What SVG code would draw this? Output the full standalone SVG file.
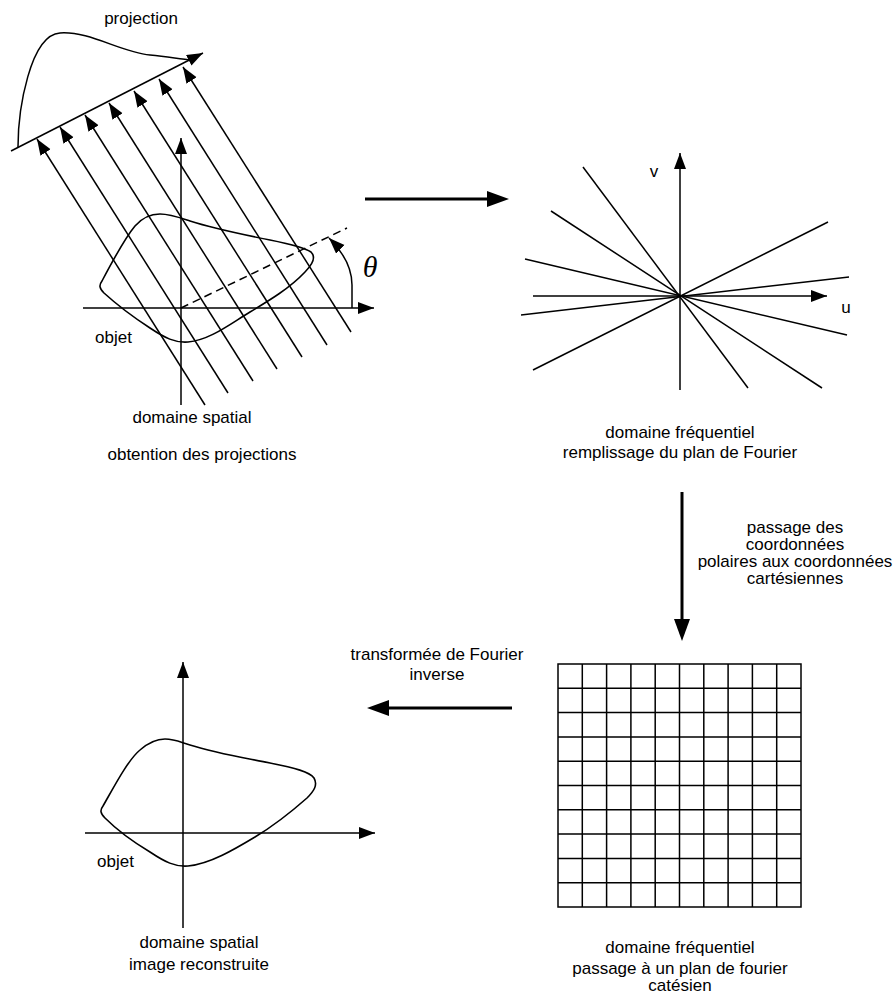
<svg xmlns="http://www.w3.org/2000/svg" width="896" height="999" viewBox="0 0 896 999">
<style>
.t{font-family:"Liberation Sans",Arial,sans-serif;font-size:17px;fill:#000}
.m{text-anchor:middle}
.ln{stroke:#000;stroke-width:1.5;fill:none}
.thick{stroke:#000;stroke-width:3;fill:none}
.shape{stroke:#000;stroke-width:1.6;fill:none}
</style>
<defs>
<marker id="ah" markerUnits="userSpaceOnUse" markerWidth="17" markerHeight="13" refX="16" refY="6" orient="auto">
<path d="M0,0 L16,6 L0,12 Z" fill="#000"/>
</marker>
<marker id="ahb" markerUnits="userSpaceOnUse" markerWidth="23" markerHeight="17" refX="0" refY="8" orient="auto">
<path d="M0,0 L22,8 L0,16 Z" fill="#000"/>
</marker>
</defs>
<rect width="896" height="999" fill="#fff"/>

<g id="projection-panel">
<path class="ln" d="M18,147 C18,110 30,35 60,33 C90,31 120,52 150,55 C170,57 180,59 192,60"/>
<line class="ln" x1="11" y1="151" x2="203" y2="53" marker-end="url(#ah)"/>
<line class="ln" x1="205" y1="405" x2="37" y2="139" marker-end="url(#ah)"/>
<line class="ln" x1="228" y1="393" x2="60" y2="127" marker-end="url(#ah)"/>
<line class="ln" x1="253" y1="381" x2="85" y2="115" marker-end="url(#ah)"/>
<line class="ln" x1="277" y1="369" x2="109" y2="103" marker-end="url(#ah)"/>
<line class="ln" x1="302" y1="357" x2="134" y2="91" marker-end="url(#ah)"/>
<line class="ln" x1="327" y1="345" x2="159" y2="79" marker-end="url(#ah)"/>
<line class="ln" x1="351" y1="332" x2="183" y2="67" marker-end="url(#ah)"/>
<line class="ln" x1="181" y1="405" x2="181" y2="138" marker-end="url(#ah)"/>
<line class="ln" x1="83" y1="308" x2="374" y2="308" marker-end="url(#ah)"/>
<line class="ln" x1="181" y1="308" x2="347" y2="228" stroke-dasharray="8,5"/>
<path class="ln" d="M352,308 L352,285 C352,268 343,252 329,238" marker-end="url(#ah)"/>
<path class="shape" d="M102,281 C112,262 125,238 135,226 C142,218 150,214 160,214 C170,214 178,217 190,221 C215,229 240,234 270,240 C295,245 305,248 311,252 C316,257 313,264 305,272 C290,288 270,300 250,312 C230,324 210,340 188,342 C175,343 165,338 150,328 C130,315 115,303 104,293 C99,288 99,285 102,281 Z"/>
<text x="370" y="277" style="font-family:'Liberation Serif','Times New Roman',serif;font-style:italic;font-size:30px" text-anchor="middle">θ</text>
<text class="t m" x="141" y="24">projection</text>
<text class="t" x="95" y="343">objet</text>
<text class="t m" x="192" y="423">domaine spatial</text>
<text class="t m" x="202" y="460">obtention des projections</text>
</g>

<g id="fourier-polar">
<line class="ln" x1="583" y1="167" x2="748" y2="388"/>
<line class="ln" x1="551" y1="211" x2="822" y2="388"/>
<line class="ln" x1="525" y1="259" x2="847" y2="335"/>
<line class="ln" x1="521" y1="315" x2="849" y2="277"/>
<line class="ln" x1="828" y1="222" x2="533" y2="370"/>
<line class="ln" x1="533" y1="296" x2="827" y2="296" marker-end="url(#ah)"/>
<line class="ln" x1="680" y1="390" x2="680" y2="153" marker-end="url(#ah)"/>
<text class="t m" x="654" y="177">v</text>
<text class="t m" x="846" y="313">u</text>
<text class="t m" x="680" y="438">domaine fréquentiel</text>
<text class="t m" x="680" y="458">remplissage du plan de Fourier</text>
</g>

<g id="fourier-cartesian">
<rect x="558" y="664" width="243" height="243" class="ln"/>
<path class="ln" d="M582.3,664V907M606.6,664V907M630.9,664V907M655.2,664V907M679.5,664V907M703.8,664V907M728.1,664V907M752.4,664V907M776.7,664V907M558,688.3H801M558,712.6H801M558,736.9H801M558,761.2H801M558,785.5H801M558,809.8H801M558,834.1H801M558,858.4H801M558,882.7H801"/>
<text class="t m" x="680" y="953">domaine fréquentiel</text>
<text class="t m" x="680" y="974">passage à un plan de fourier</text>
<text class="t m" x="680" y="991">catésien</text>
</g>

<g id="reconstruction-panel">
<line class="ln" x1="183" y1="928" x2="183" y2="662" marker-end="url(#ah)"/>
<line class="ln" x1="85" y1="833" x2="375" y2="833" marker-end="url(#ah)"/>
<path class="shape" d="M103,806 C115,785 128,760 140,750 C148,743 155,739 165,739 C175,739 180,742 190,745 C215,753 240,757 270,763 C295,768 310,772 314,778 C318,785 314,791 307,798 C290,813 275,825 255,837 C235,849 210,864 188,866 C175,867 165,862 150,852 C130,840 115,828 105,818 C100,813 100,810 103,806 Z"/>
<text class="t" x="97" y="867">objet</text>
<text class="t m" x="199" y="948">domaine spatial</text>
<text class="t m" x="199" y="970">image reconstruite</text>
</g>

<g id="connectors">
<line class="thick" x1="365" y1="199" x2="487" y2="199" marker-end="url(#ahb)"/>
<line class="thick" x1="682" y1="492" x2="682" y2="619" marker-end="url(#ahb)"/>
<line class="thick" x1="512" y1="708" x2="389" y2="708" marker-end="url(#ahb)"/>
</g>

<g id="connector-labels">
<text class="t m" x="795" y="533">passage des</text>
<text class="t m" x="795" y="550">coordonnées</text>
<text class="t m" x="795" y="567">polaires aux coordonnées</text>
<text class="t m" x="795" y="584">cartésiennes</text>
<text class="t m" x="437" y="660">transformée de Fourier</text>
<text class="t m" x="437" y="680">inverse</text>
</g>
</svg>
